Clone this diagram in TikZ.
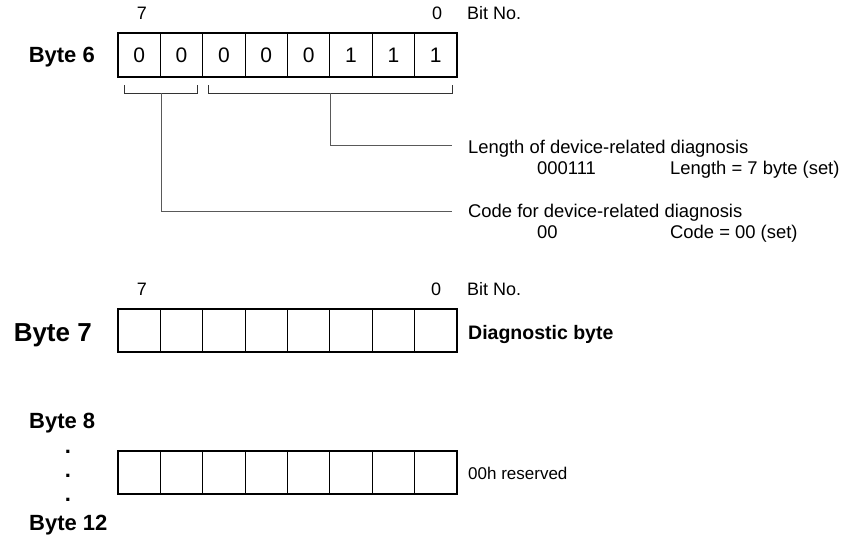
\documentclass[tikz,border=0pt]{standalone}
\usepackage{fontspec}
\setmainfont{Liberation Sans}
\begin{document}
\begin{tikzpicture}[x=1pt,y=-1pt,
  lbl/.style={inner sep=0pt, font=\fontsize{18}{21}\selectfont},
  note/.style={inner sep=0pt, font=\fontsize{18.4}{21}\selectfont},
  blbl/.style={inner sep=0pt, font=\fontsize{22}{26}\selectfont\bfseries},
  cellbox/.style={draw=black, line width=1.1pt, minimum width=42.375pt, minimum height=44pt, inner sep=0pt, font=\fontsize{21}{25}\selectfont},
  brk/.style={draw=black!80, line width=1pt},
  conn/.style={draw=black!65, line width=1pt}]
\useasboundingbox (0,0) rectangle (842,535);

% ---- Byte 6 ----
\node[lbl, anchor=base] (b6hi) at (142,20) {7};
\node[lbl, anchor=base] (b6lo) at (437,20) {0};
\node[lbl, anchor=base west] (b6bit) at (467,20) {Bit No.};
\node[blbl, anchor=base east] (b6) at (95,63) {Byte 6};
\foreach \v [count=\i] in {0,0,0,0,0,1,1,1}
  \node[cellbox] (c6-\i) at ({118+42.375*(\i-0.5)},55) {\v};

% brackets
\coordinate (lbA) at (124,85); \coordinate (lbB) at (197,85);
\coordinate (rbA) at (208,85); \coordinate (rbB) at (452,85);
\draw[brk] (lbA) -- ++(0,8) -- (197,93) -- (lbB);
\draw[brk] (rbA) -- ++(0,8) -- (452,93) -- (rbB);
\coordinate (lbM) at (161,93);
\coordinate (rbM) at (330,93);
\coordinate (lenEnd) at (452,145);
\coordinate (codeEnd) at (452,211);
\draw[conn] (rbM) |- (lenEnd);
\draw[conn] (lbM) |- (codeEnd);

\node[note, anchor=base west] (len) at (468,153.5) {Length of device-related diagnosis};
\node[note, anchor=base west] (lenv) at (537,174.5) {000111};
\node[note, anchor=base west] (lend) at (670,174.5) {Length = 7 byte (set)};
\node[note, anchor=base west] (code) at (468,217.5) {Code for device-related diagnosis};
\node[note, anchor=base west] (codev) at (537,238.5) {00};
\node[note, anchor=base west] (coded) at (670,238.5) {Code = 00 (set)};

% ---- Byte 7 ----
\node[lbl, anchor=base] (b7hi) at (142,295.5) {7};
\node[lbl, anchor=base] (b7lo) at (436,295.5) {0};
\node[lbl, anchor=base west] (b7bit) at (467,295.5) {Bit No.};
\node[inner sep=0pt, font=\fontsize{26}{30}\selectfont\bfseries, anchor=base east] (b7) at (92,341) {Byte 7};
\foreach \i in {1,...,8}
  \node[cellbox, minimum height=43pt] (c7-\i) at ({118+42.375*(\i-0.5)},330.5) {};
\node[inner sep=0pt, font=\fontsize{19.5}{23}\selectfont\bfseries, anchor=base west] (diag) at (468,339) {Diagnostic byte};

% ---- Byte 8 .. 12 ----
\node[blbl, anchor=base west] (b8) at (29,428) {Byte 8};
\node[blbl, anchor=base] (d1) at (68,453) {.};
\node[blbl, anchor=base] (d2) at (68,477) {.};
\node[blbl, anchor=base] (d3) at (68,501) {.};
\node[blbl, anchor=base west] (b12) at (29,530) {Byte 12};
\foreach \i in {1,...,8}
  \node[cellbox, minimum height=43pt] (c8-\i) at ({118+42.375*(\i-0.5)},472.5) {};
\node[inner sep=0pt, font=\fontsize{17}{20}\selectfont, anchor=base west] (res) at (468,479) {00h reserved};
\end{tikzpicture}
\end{document}
